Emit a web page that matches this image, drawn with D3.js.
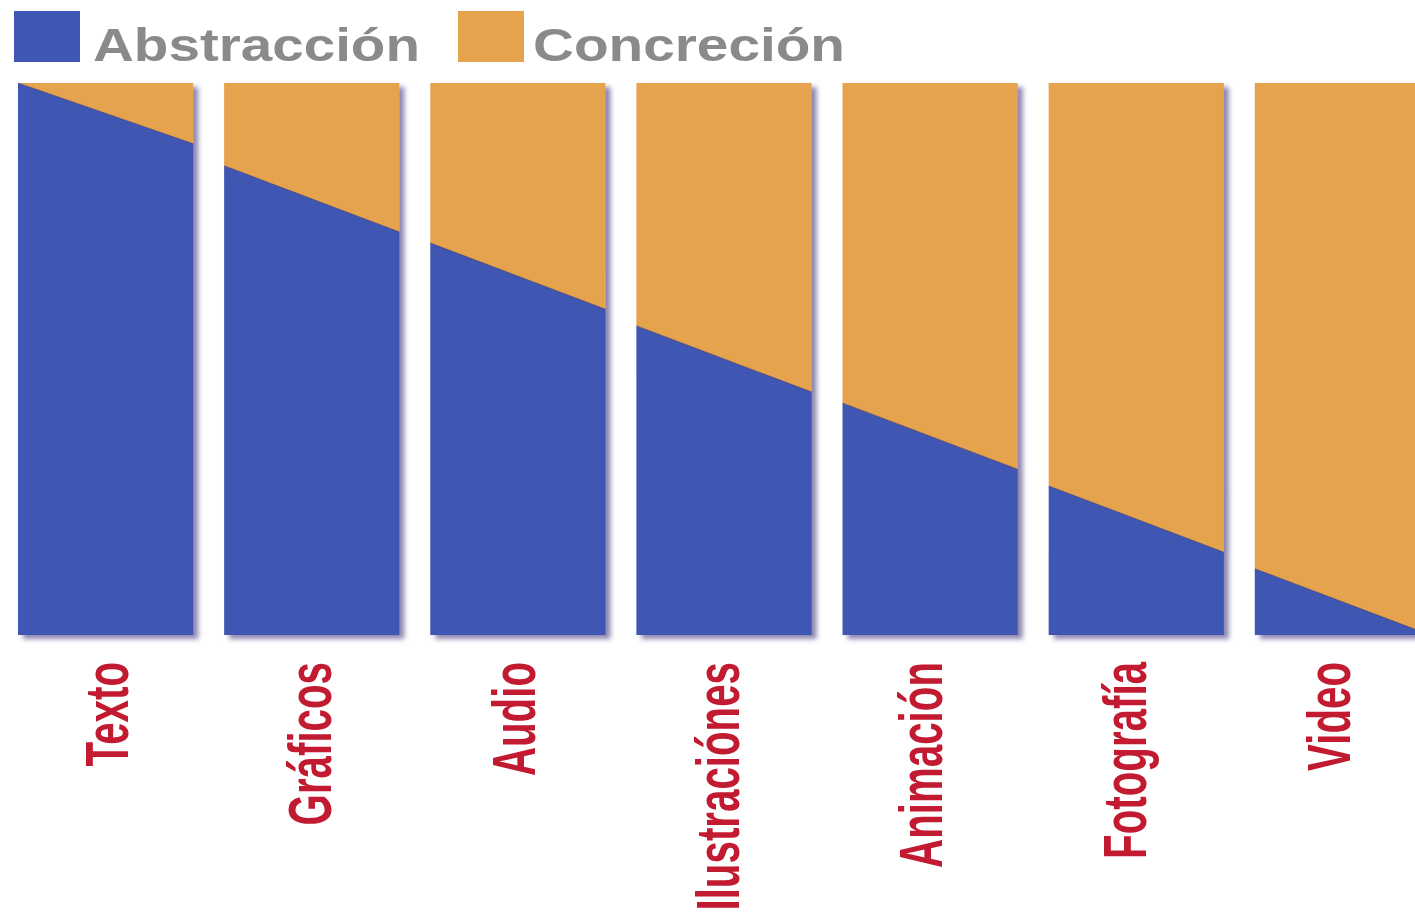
<!DOCTYPE html>
<html>
<head>
<meta charset="utf-8">
<script src="https://cdn.jsdelivr.net/npm/d3@7"></script>
<style>
  html, body { margin: 0; padding: 0; background: #fff; overflow: hidden; }
  svg { display: block; }
</style>
</head>
<body>
<svg width="1415" height="916"></svg>
<script>
// categories and the abstraction share (%) at the left and right edge of each column
var categories = ["Texto", "Gráficos", "Audio", "Ilustraciónes", "Animación", "Fotografía", "Video"];
var abstractionStart = [100, 85, 71, 56, 42, 27, 12];
var abstractionEnd = [89, 73, 59, 44, 30, 15, 0];
var seriesNames = ["Abstracción", "Concreción"];

var blue = "#3f57b3",
    orange = "#e5a34e",
    labelRed = "#c21a30";

window.onload = function(){ drawChart() }
function drawChart() {
    var svg = d3.select("svg");

    var x = d3.scaleBand()
        .domain(categories)
        .range([18, 1430])
        .paddingInner(0.15)
        .paddingOuter(0);

    var y = d3.scaleLinear()
        .domain([0, 100])
        .range([635, 83]);

    // labels sit on a slightly tighter pitch than the columns
    var labelX = d3.scalePoint()
        .domain(categories)
        .range([105.5, 1327.5]);

    var defs = svg.append("defs");
    var shadow = defs.append("filter")
        .attr("id", "shadow")
        .attr("x", "-10%").attr("y", "-10%")
        .attr("width", "130%").attr("height", "130%");
    shadow.append("feDropShadow")
        .attr("dx", 5).attr("dy", 4)
        .attr("stdDeviation", 2.5)
        .attr("flood-color", "#4f4585")
        .attr("flood-opacity", 0.65);

    var rows = categories.map(function(c, i) {
        return { cat: c, a0: abstractionStart[i], a1: abstractionEnd[i] };
    });

    var col = svg.append("g")
        .attr("class", "columns")
        .selectAll("g")
        .data(rows)
        .enter().append("g")
        .attr("filter", "url(#shadow)");

    // concreción: upper part of the column
    col.append("path")
        .attr("fill", orange)
        .attr("d", function(d) {
            var x0 = x(d.cat), x1 = x0 + x.bandwidth();
            return "M" + x0 + "," + y(100) + "L" + x1 + "," + y(100) +
                "L" + x1 + "," + y(d.a1) + "L" + x0 + "," + y(d.a0) + "Z";
        });

    // abstracción: lower part
    col.append("path")
        .attr("fill", blue)
        .attr("d", function(d) {
            var x0 = x(d.cat), x1 = x0 + x.bandwidth();
            return "M" + x0 + "," + y(d.a0) + "L" + x1 + "," + y(d.a1) +
                "L" + x1 + "," + y(0) + "L" + x0 + "," + y(0) + "Z";
        });

    // thin dark seam along the diagonal
    col.append("line")
        .attr("x1", function(d) { return x(d.cat); })
        .attr("x2", function(d) { return x(d.cat) + x.bandwidth(); })
        .attr("y1", function(d) { return y(d.a0); })
        .attr("y2", function(d) { return y(d.a1); })
        .attr("stroke", "#4a3f6a")
        .attr("stroke-opacity", 0.5)
        .attr("stroke-width", 1.2);

    // category labels, rotated and condensed
    svg.append("g")
        .attr("class", "labels")
        .selectAll("text")
        .data(categories)
        .enter().append("text")
        .attr("transform", function(d) {
            return "translate(" + (labelX(d) + 22) + ",662) rotate(-90) scale(0.65,1)";
        })
        .attr("text-anchor", "end")
        .attr("font-family", "Liberation Sans, Arial, sans-serif")
        .attr("font-weight", "bold")
        .attr("font-size", 62)
        .attr("fill", labelRed)
        .text(function(d) { return d; });

    // legend
    var legendX = [14, 458],
        legendTextX = [93, 533],
        legendTextLen = [327, 312],
        legendColors = [blue, orange];

    var leg = svg.append("g")
        .attr("class", "legend")
        .selectAll("g")
        .data(seriesNames)
        .enter().append("g");

    leg.append("rect")
        .attr("x", function(d, i) { return legendX[i]; })
        .attr("y", 11)
        .attr("width", 66)
        .attr("height", 51)
        .attr("fill", function(d, i) { return legendColors[i]; });

    leg.append("text")
        .attr("x", function(d, i) { return legendTextX[i]; })
        .attr("y", 61)
        .attr("font-family", "Liberation Sans, Arial, sans-serif")
        .attr("font-weight", "bold")
        .attr("font-size", 46)
        .attr("fill", "#8a8a8a")
        .attr("textLength", function(d, i) { return legendTextLen[i]; })
        .attr("lengthAdjust", "spacingAndGlyphs")
        .text(function(d) { return d; });
}
</script>
</body>
</html>
